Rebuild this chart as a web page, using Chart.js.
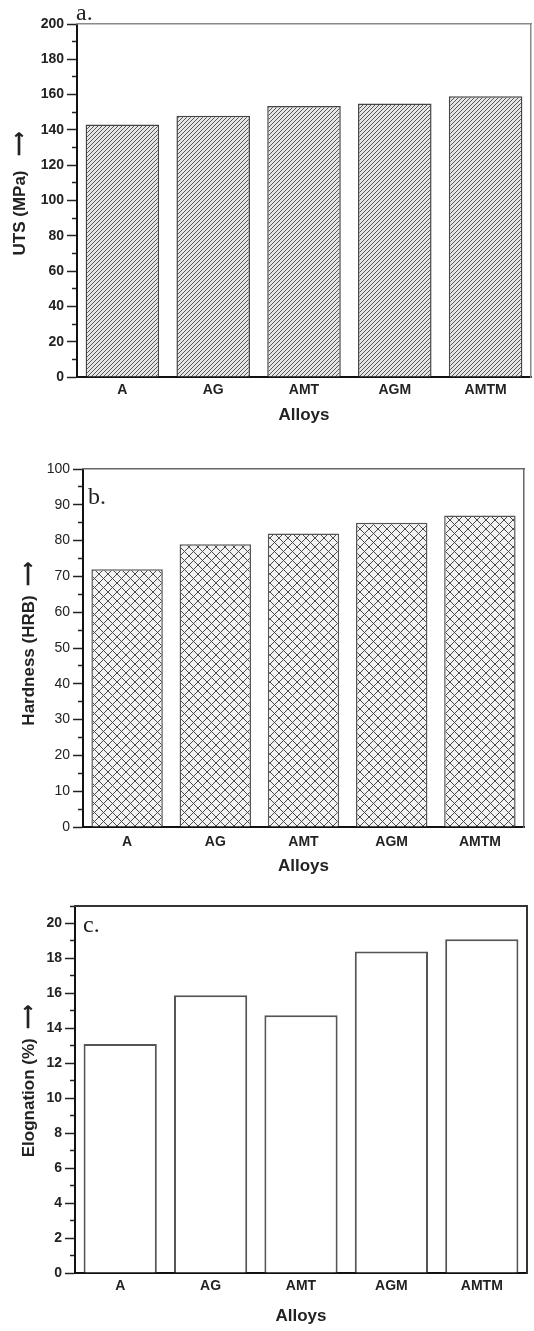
<!DOCTYPE html>
<html>
<head>
<meta charset="utf-8">
<script src="https://cdn.jsdelivr.net/npm/chart.js@4.4.1/dist/chart.umd.min.js"></script>
<style>
body { margin: 0; background: #fff; }
.panel { position: relative; width: 534px; }
.panel canvas { display: block; }
.tag { position: absolute; font-family: "Liberation Serif", "Times New Roman", serif; font-size: 24px; line-height: 24px; color: #222; }
</style>
</head>
<body>
<div class="panel" style="height:430px">
	<canvas id="chartA" width="534" height="430"></canvas>
	<div class="tag" style="left:76px;top:0px">a.</div>
</div>
<div class="panel" style="height:450px">
	<canvas id="chartB" width="534" height="450"></canvas>
	<div class="tag" style="left:88px;top:54px">b.</div>
</div>
<div class="panel" style="height:451px">
	<canvas id="chartC" width="534" height="451"></canvas>
	<div class="tag" style="left:83px;top:32px">c.</div>
</div>
<script>
var alloys = ['A', 'AG', 'AMT', 'AGM', 'AMTM']

var uts = [143, 148, 153.5, 155, 159]
var hardness = [72, 79, 82, 85, 87]
var elongation = [13.1, 15.9, 14.75, 18.4, 19.1]

// y axis: [max, major step, minor step]
var utsAxis = [200, 20, 10]
var hardnessAxis = [100, 10, 5]
var elongationAxis = [21, 2, 1]

var sans = '"Liberation Sans", Arial, sans-serif'


function diagPattern(ctx) {
	let c = document.createElement('canvas')
	c.width = 4
	c.height = 4
	let g = c.getContext('2d')
	g.fillStyle = '#e6e6e6'
	g.fillRect(0, 0, 4, 4)
	g.strokeStyle = '#555'
	g.lineWidth = 1
	g.beginPath()
	g.moveTo(-1, 5); g.lineTo(5, -1)
	g.moveTo(-1, 1); g.lineTo(1, -1)
	g.moveTo(3, 5); g.lineTo(5, 3)
	g.stroke()
	return ctx.createPattern(c, 'repeat')
}

function crossPattern(ctx) {
	let s = 9
	let c = document.createElement('canvas')
	c.width = s
	c.height = s
	let g = c.getContext('2d')
	g.fillStyle = '#f2f2f2'
	g.fillRect(0, 0, s, s)
	g.strokeStyle = '#4a4a4a'
	g.lineWidth = 1
	g.beginPath()
	g.moveTo(0, 0); g.lineTo(s, s)
	g.moveTo(0, s); g.lineTo(s, 0)
	g.stroke()
	return ctx.createPattern(c, 'repeat')
}


function makeChart(id, cfg) {
	let ctx = document.getElementById(id).getContext('2d')
	let max = cfg.axis[0], major = cfg.axis[1], minor = cfg.axis[2]

	return new Chart(ctx, {
		type: 'bar',
		data: {
			labels: alloys,
			datasets: [{
				data: cfg.values,
				backgroundColor: cfg.fill(ctx),
				borderColor: cfg.barBorder,
				borderWidth: cfg.barBorderWidth,
				barPercentage: 0.81,
				categoryPercentage: 1
			}]
		},
		options: {
			responsive: false,
			animation: false,
			layout: { padding: cfg.pad },
			plugins: {
				legend: { display: false },
				tooltip: { enabled: false }
			},
			scales: {
				x: {
					grid: { display: false, drawTicks: false },
					border: { color: '#111', width: 2 },
					ticks: {
						color: '#222',
						padding: cfg.xTickPad,
						font: { family: sans, size: 14, weight: 'bold' }
					},
					title: {
						display: true,
						text: 'Alloys',
						color: '#222',
						padding: { top: 0, bottom: cfg.xTitlePad },
						font: { family: sans, size: 17, weight: 'bold' }
					},
					afterFit: function(s) { s.height = cfg.xh }
				},
				y: {
					min: 0,
					max: max,
					ticks: {
						stepSize: minor,
						autoSkip: false,
						color: '#222',
						padding: 3,
						font: { family: sans, size: 14, weight: cfg.yTickWeight },
						callback: function(v) { return v % major === 0 ? v : '' }
					},
					grid: {
						drawOnChartArea: false,
						tickLength: 10,
						tickColor: '#222',
						tickWidth: 1.5,
						tickBorderDash: function(c) {
							return c.tick && c.tick.value % major !== 0 ? [0, 5, 5] : []
						}
					},
					border: { color: '#111', width: 2 },
					title: {
						display: true,
						text: cfg.yTitle,
						color: '#222',
						padding: { top: cfg.yTitlePad, bottom: 0 },
						font: { family: sans, size: 17, weight: 'bold' }
					},
					afterFit: function(s) { s.width = cfg.yw }
				},
				frameTop: {
					type: 'linear',
					position: 'top',
					ticks: { display: false },
					grid: { display: false, drawTicks: false },
					border: { color: cfg.frameColor, width: cfg.frameWidth },
					afterFit: function(s) { s.height = 0 }
				},
				frameRight: {
					type: 'linear',
					position: 'right',
					ticks: { display: false },
					grid: { display: false, drawTicks: false },
					border: { color: cfg.frameColor, width: cfg.frameWidth },
					afterFit: function(s) { s.width = 0 }
				}
			}
		}
	})
}


makeChart('chartA', {
	values: uts,
	axis: utsAxis,
	fill: diagPattern,
	barBorder: '#444',
	barBorderWidth: 1.5,
	pad: { top: 24, right: 3, left: 0, bottom: 0 },
	yw: 77,
	xh: 53,
	xTickPad: 5,
	xTitlePad: 4,
	yTickWeight: 'bold',
	yTitle: '\u2002 UTS (MPa)   \u27F6',
	yTitlePad: 10,
	frameColor: '#8a8a8a',
	frameWidth: 1.5
})

makeChart('chartB', {
	values: hardness,
	axis: hardnessAxis,
	fill: crossPattern,
	barBorder: '#555',
	barBorderWidth: 1.5,
	pad: { top: 39, right: 10, left: 0, bottom: 0 },
	yw: 83,
	xh: 53,
	xTickPad: 7,
	xTitlePad: 3,
	yTickWeight: 'normal',
	yTitle: '\u2002Hardness (HRB)  \u27F6',
	yTitlePad: 19,
	frameColor: '#666',
	frameWidth: 1.5
})

makeChart('chartC', {
	values: elongation,
	axis: elongationAxis,
	fill: function() { return '#fff' },
	barBorder: '#555',
	barBorderWidth: 2,
	pad: { top: 26, right: 7, left: 0, bottom: 0 },
	yw: 75,
	xh: 58,
	xTickPad: 5,
	xTitlePad: 4,
	yTickWeight: 'bold',
	yTitle: '\u2003Elognation (%)  \u27F6',
	yTitlePad: 19,
	frameColor: '#333',
	frameWidth: 2
})
</script>
</body>
</html>
